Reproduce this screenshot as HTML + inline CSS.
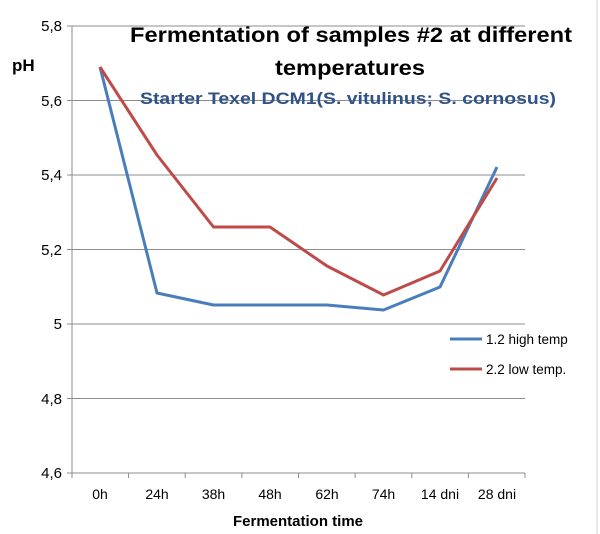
<!DOCTYPE html>
<html><head><style>body{margin:0;background:#fff}svg{display:block}</style></head><body>
<svg width="600" height="534" xmlns="http://www.w3.org/2000/svg" font-family="Liberation Sans, sans-serif">
<rect width="600" height="534" fill="#fff"/>
<line x1="597" y1="0" x2="597" y2="534" stroke="#d0d0d0"/>
<g stroke="#8c8c8c" stroke-width="1">
<line x1="72" y1="26" x2="525" y2="26"/>
<line x1="72" y1="100.5" x2="525" y2="100.5"/>
<line x1="72" y1="175" x2="525" y2="175"/>
<line x1="72" y1="249.5" x2="525" y2="249.5"/>
<line x1="72" y1="324" x2="525" y2="324"/>
<line x1="72" y1="398.5" x2="525" y2="398.5"/>
<line x1="72" y1="473" x2="525" y2="473"/>
<line x1="72" y1="26" x2="72" y2="473"/>
<line x1="67" y1="26" x2="72" y2="26"/><line x1="67" y1="100.5" x2="72" y2="100.5"/><line x1="67" y1="175" x2="72" y2="175"/><line x1="67" y1="249.5" x2="72" y2="249.5"/><line x1="67" y1="324" x2="72" y2="324"/><line x1="67" y1="398.5" x2="72" y2="398.5"/><line x1="67" y1="473" x2="72" y2="473"/>
<line x1="72" y1="473" x2="72" y2="478"/><line x1="128.6" y1="473" x2="128.6" y2="478"/><line x1="185.2" y1="473" x2="185.2" y2="478"/><line x1="241.9" y1="473" x2="241.9" y2="478"/><line x1="298.5" y1="473" x2="298.5" y2="478"/><line x1="355.1" y1="473" x2="355.1" y2="478"/><line x1="411.8" y1="473" x2="411.8" y2="478"/><line x1="468.4" y1="473" x2="468.4" y2="478"/><line x1="525" y1="473" x2="525" y2="478"/>
</g>
<g font-size="15" fill="#000" text-anchor="end">
<text x="62" y="31">5,8</text><text x="62" y="106">5,6</text><text x="62" y="180">5,4</text><text x="62" y="255">5,2</text><text x="62" y="329">5</text><text x="62" y="404">4,8</text><text x="62" y="478">4,6</text>
</g>
<g font-size="14" fill="#000" text-anchor="middle">
<text x="100" y="499">0h</text><text x="157" y="499">24h</text><text x="213.5" y="499">38h</text><text x="270" y="499">48h</text><text x="327" y="499">62h</text><text x="383.5" y="499">74h</text><text x="440" y="499">14 dni</text><text x="497" y="499">28 dni</text>
</g>
<text x="12" y="71" font-size="17" font-weight="bold">pH</text>
<text x="298" y="526" font-size="15" font-weight="bold" text-anchor="middle">Fermentation time</text>
<text x="351" y="42" font-size="21" font-weight="bold" text-anchor="middle" textLength="442" lengthAdjust="spacingAndGlyphs">Fermentation of  samples #2 at different</text>
<text x="350" y="75" font-size="21" font-weight="bold" text-anchor="middle" textLength="150" lengthAdjust="spacingAndGlyphs">temperatures</text>
<text x="348" y="104" font-size="17" font-weight="bold" fill="#2f5287" text-anchor="middle" textLength="416" lengthAdjust="spacingAndGlyphs">Starter Texel DCM1(S. vitulinus; S. cornosus)</text>
<polyline fill="none" stroke="#4a7ebb" stroke-width="3" stroke-linejoin="round" points="100,67 157,293 213.5,305 270,305 327,305 383.5,310 440,287 497,167"/>
<polyline fill="none" stroke="#be4b48" stroke-width="3" stroke-linejoin="round" points="100,67 157,155 213.5,227 270,227 327,266 383.5,295 440,271 497,178"/>
<line x1="450" y1="339" x2="482" y2="339" stroke="#4a7ebb" stroke-width="3"/>
<text x="486" y="344" font-size="13.5">1.2 high temp</text>
<line x1="450" y1="369" x2="482" y2="369" stroke="#be4b48" stroke-width="3"/>
<text x="486" y="374" font-size="13.5">2.2 low temp.</text>
</svg>
</body></html>
